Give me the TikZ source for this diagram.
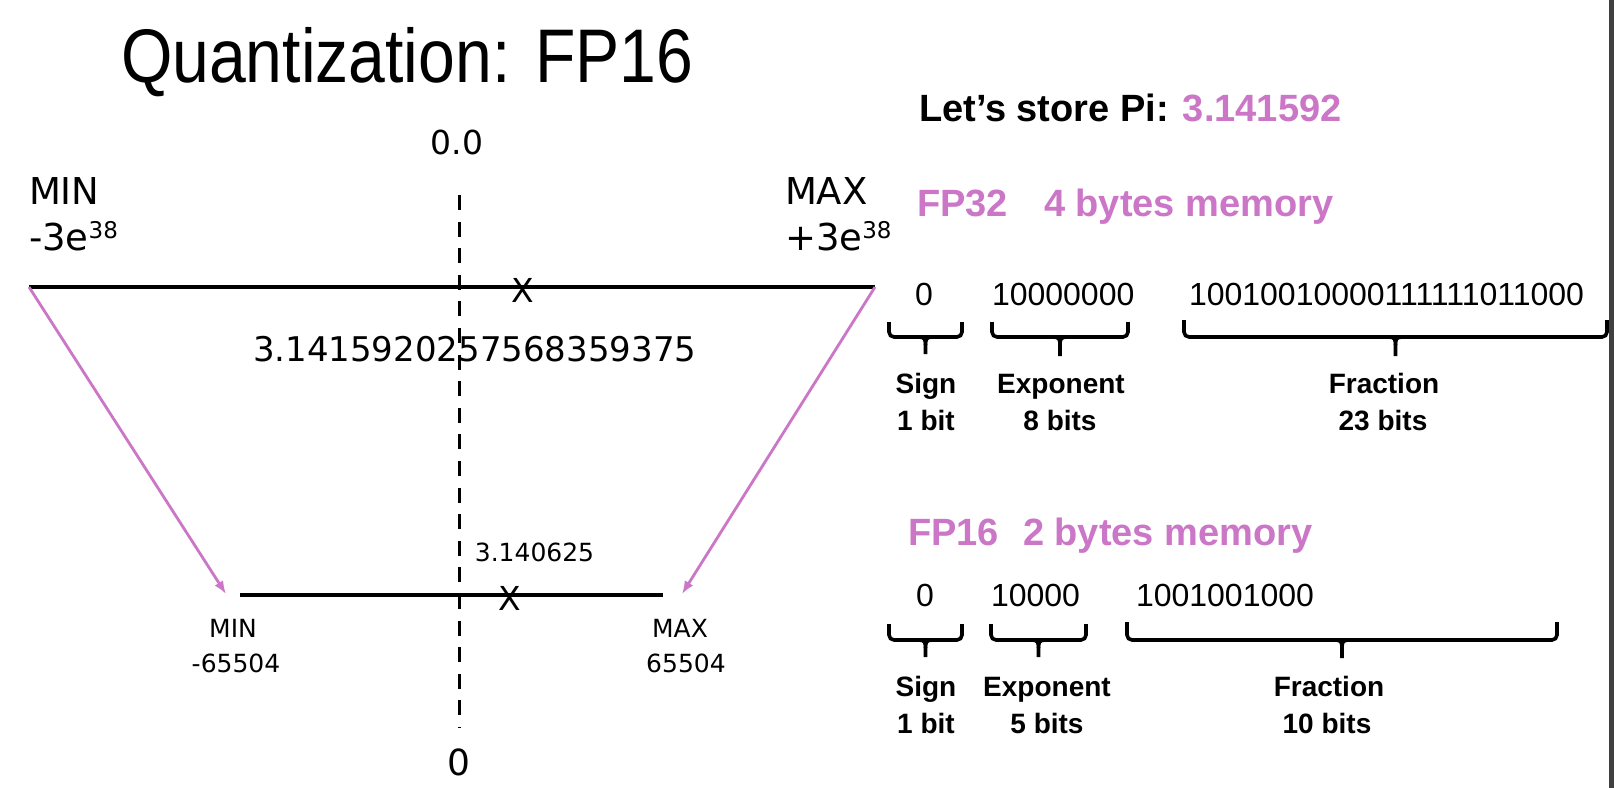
\documentclass[tikz,border=0pt]{standalone}
\usepackage{fontspec}
\setmainfont{Liberation Sans}
\newfontfamily\dvs{DejaVu Sans}
\usetikzlibrary{arrows.meta}
\definecolor{pinkc}{RGB}{203,118,199}
\definecolor{edgegrey}{RGB}{64,64,64}
\newcommand\myexp[1]{{\fontsize{11.5}{13}\selectfont\raisebox{6pt}{#1}}}
\newcommand\bitbrace[5]{% x1 x2 top h tip
  \draw[bracket] (#1,#3) -- (#1,#4) -- (#2,#4) -- (#2,#3);
  \pgfmathsetmacro\bc{(#1+#2)/2}
  \draw[bracketline] (\bc-7,#4) .. controls (\bc-1,#4) and (\bc,#4+2) .. (\bc,#4+8) -- (\bc,#5);
  \draw[bracketline] (\bc+7,#4) .. controls (\bc+1,#4) and (\bc,#4+2) .. (\bc,#4+8);
}
\begin{document}
\begin{tikzpicture}[x=0.5pt,y=-0.5pt,
  txt/.style={inner sep=0pt, outer sep=0pt},
  bigl/.style={txt, font=\dvs\fontsize{18.5}{22}\selectfont},
  smalll/.style={txt, font=\dvs\fontsize{12.5}{15}\selectfont},
  head/.style={txt, font=\bfseries\fontsize{19}{22}\selectfont},
  bits/.style={txt, font=\fontsize{16}{19}\selectfont},
  blabel/.style={txt, font=\bfseries\fontsize{14}{16}\selectfont},
  axis/.style={line width=1.6pt},
  zeroline/.style={line width=1.5pt, dash pattern=on 7.5pt off 5.8pt},
  maparrow/.style={pinkc, line width=1.4pt, -{Latex[length=6.5pt,width=5pt]}},
  bracket/.style={line width=1.8pt, rounded corners=2.5pt},
  bracketline/.style={line width=1.8pt},
  xmark/.style={txt, font=\dvs\fontsize{16.5}{19}\selectfont},
]
\useasboundingbox (0,0) rectangle (1614,788);
\fill[white] (0,0) rectangle (1614,788);
\fill[edgegrey] (1609,0) rectangle (1614,788);

% title
\node[txt, anchor=base west, font=\fontsize{38}{44}\selectfont] (title) at (121,82) {\scalebox{0.87}[1]{Quantization: FP16}};

% axes
\coordinate (tl) at (29,287);
\coordinate (tr) at (875,287);
\coordinate (bl) at (240,595);
\coordinate (br) at (663,595);
\coordinate (zt) at (459,195);
\coordinate (zb) at (459,728);
\coordinate (bla) at (226,594);
\coordinate (bra) at (682,594);
\draw[zeroline] (zt) -- (zb);
\draw[axis] (tl) -- (tr);
\draw[axis] (bl) -- (br);
\draw[maparrow] (tl) -- (bla);
\draw[maparrow] (tr) -- (bra);

% left labels
\node[txt, anchor=base, font=\dvs\fontsize{16.5}{20}\selectfont] (zerotop) at (457,154) {0.0};
\node[txt, anchor=base, font=\dvs\fontsize{18}{22}\selectfont] (zerobot) at (459,775) {0};
\node[bigl, anchor=base west] (minT) at (29,204) {MIN};
\node[bigl, anchor=base west] (minV) at (29,250) {-3e\myexp{38}};
\node[bigl, anchor=base west] (maxT) at (785,204) {MAX};
\node[bigl, anchor=base west] (maxV) at (785,250) {+3e\myexp{38}};
\node[xmark] (x32) at (523,290) {X};
\node[txt, anchor=base west, font=\dvs\fontsize{17}{20}\selectfont] (val32) at (253,361) {3.1415920257568359375};

\node[smalll, anchor=base] (val16) at (534.5,561) {3.140625};
\node[xmark] (x16) at (510,598) {X};
\node[smalll, anchor=base] (minT16) at (233,637) {MIN};
\node[smalll, anchor=base] (minV16) at (236,672) {-65504};
\node[smalll, anchor=base] (maxT16) at (680,637) {MAX};
\node[smalll, anchor=base] (maxV16) at (686,672) {65504};

% right side headings
\node[head, anchor=base west] (pi) at (919,121) {Let’s store Pi: \textcolor{pinkc}{3.141592}};
\node[head, anchor=base west, text=pinkc] (fp32) at (917,216) {FP32};
\node[head, anchor=base west, text=pinkc] (mem32) at (1044,216) {4 bytes memory};
\node[head, anchor=base west, text=pinkc] (fp16) at (908,545) {FP16};
\node[head, anchor=base west, text=pinkc] (mem16) at (1023,545) {2 bytes memory};

% FP32 bits
\node[bits, anchor=base] (s32) at (924,305) {0};
\node[bits, anchor=base west] (e32) at (992,305) {10000000};
\node[bits, anchor=base west] (f32) at (1189,305) {10010010000111111011000};
\bitbrace{889}{962}{322}{337}{354}
\bitbrace{992}{1128}{322}{337}{356}
\bitbrace{1184}{1607}{320}{337}{356}
\node[blabel, anchor=base] (sg32) at (926,393) {Sign};
\node[blabel, anchor=base] (sb32) at (926,430) {1 bit};
\node[blabel, anchor=base] (eg32) at (1061,393) {Exponent};
\node[blabel, anchor=base] (eb32) at (1060,430) {8 bits};
\node[blabel, anchor=base] (fg32) at (1384,393) {Fraction};
\node[blabel, anchor=base] (fb32) at (1383,430) {23 bits};

% FP16 bits
\node[bits, anchor=base] (s16) at (925,606) {0};
\node[bits, anchor=base west] (e16) at (991,606) {10000};
\node[bits, anchor=base west] (f16) at (1136,606) {1001001000};
\bitbrace{889}{962}{624}{640}{657}
\bitbrace{991}{1086}{624}{640}{657}
\bitbrace{1127}{1557}{622}{640}{658}
\node[blabel, anchor=base] (sg16) at (926,696) {Sign};
\node[blabel, anchor=base] (sb16) at (926,733) {1 bit};
\node[blabel, anchor=base] (eg16) at (1047,696) {Exponent};
\node[blabel, anchor=base] (eb16) at (1047,733) {5 bits};
\node[blabel, anchor=base] (fg16) at (1329,696) {Fraction};
\node[blabel, anchor=base] (fb16) at (1327,733) {10 bits};
\end{tikzpicture}
\end{document}
